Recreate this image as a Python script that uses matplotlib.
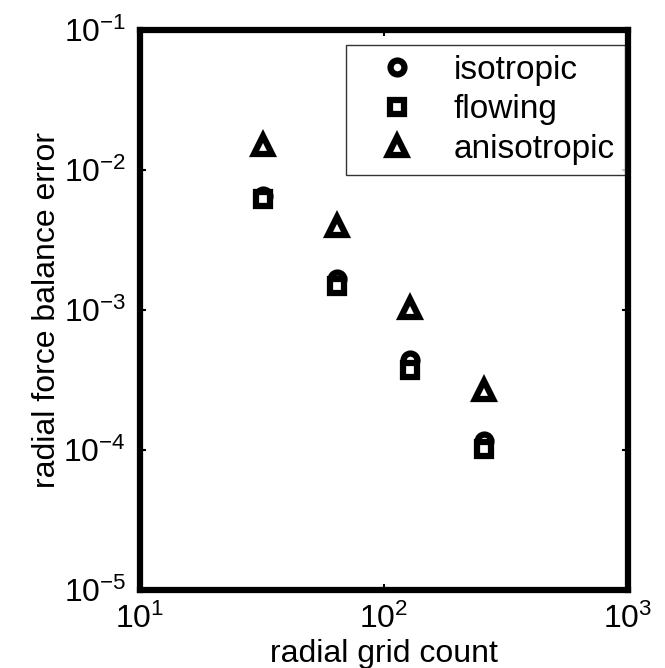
import matplotlib
matplotlib.use('Agg')
import matplotlib.pyplot as plt

plt.rcParams['font.family'] = ['Liberation Sans', 'DejaVu Sans']
plt.rcParams['mathtext.fontset'] = 'custom'
plt.rcParams['mathtext.rm'] = 'Liberation Sans'
plt.rcParams['mathtext.it'] = 'Liberation Sans'

# data
grid = [32, 64, 128, 256]
isotropic = [6.5e-3, 1.66e-3, 4.4e-4, 1.16e-4]
flowing = [6.2e-3, 1.48e-3, 3.7e-4, 1.02e-4]
anisotropic = [1.51e-2, 3.95e-3, 1.03e-3, 2.68e-4]

fig = plt.figure(figsize=(6.65, 6.68), dpi=100)
ax = fig.add_axes([140/665, 1-590/668, 488/665, 560/668])

mk = dict(linestyle='none', color='k', markerfacecolor='white',
          markeredgecolor='k', markeredgewidth=4.5)
ax.plot(grid, isotropic, marker='o', markersize=10, label='isotropic', **mk)
ax.plot(grid, flowing, marker='s', markersize=9.5, label='flowing', **mk)
ax.plot(grid, anisotropic, marker='^', markersize=12.5, label='anisotropic', **mk)

ax.set_xscale('log')
ax.set_yscale('log')
ax.set_xlim(10, 1000)
ax.set_ylim(1e-5, 1e-1)
ax.minorticks_off()
ax.tick_params(direction='in', length=4, width=1.5, labelsize=23, pad=10,
               top=True, right=True)
for s in ax.spines.values():
    s.set_linewidth(4.5)

ax.set_xlabel('radial grid count', fontsize=23, labelpad=3)
ax.set_ylabel('radial force balance error', fontsize=23, labelpad=1)

leg = ax.legend(loc='upper right', bbox_to_anchor=(0.994, 0.973),
                fontsize=24, frameon=True, fancybox=False, edgecolor='k',
                borderpad=0.3, labelspacing=0.25, handletextpad=0.45,
                borderaxespad=0.0, handlelength=2.5)
leg.get_frame().set_linewidth(1.0)

fig.savefig('out.png', dpi=100)
